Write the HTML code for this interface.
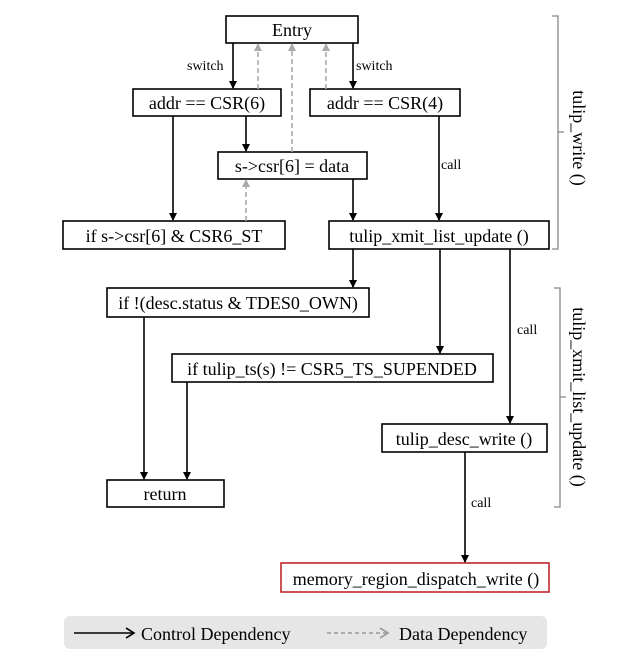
<!DOCTYPE html>
<html><head><meta charset="utf-8"><style>
body{margin:0;background:#fff;}
svg{display:block;font-family:"Liberation Serif",serif;}
</style></head><body>
<svg width="641" height="660" viewBox="0 0 641 660" xmlns="http://www.w3.org/2000/svg">
<defs>
<marker id="a" markerWidth="8" markerHeight="8" refX="7" refY="4" orient="auto" markerUnits="userSpaceOnUse"><path d="M0,0 L8,4 L0,8 z" fill="#000"/></marker>
<marker id="g" markerWidth="8" markerHeight="8" refX="7" refY="4" orient="auto" markerUnits="userSpaceOnUse"><path d="M0,0 L8,4 L0,8 z" fill="#aaa"/></marker>
</defs>
<g fill="none" stroke="#000" stroke-width="1.6">
<rect x="226" y="16" width="132" height="27"/>
<rect x="133" y="89" width="148" height="27"/>
<rect x="310" y="89" width="150" height="27"/>
<rect x="218" y="152" width="149" height="27"/>
<rect x="63" y="221" width="222" height="28"/>
<rect x="329" y="221" width="220" height="28"/>
<rect x="107" y="288" width="262" height="29"/>
<rect x="172" y="354" width="321" height="28"/>
<rect x="382" y="424" width="165" height="28"/>
<rect x="107" y="480" width="117" height="27"/>
<rect x="281" y="563" width="268" height="29" stroke="#c0282d"/>
</g>
<g stroke="#000" stroke-width="1.6" marker-end="url(#a)">
<line x1="233" y1="43" x2="233" y2="88"/>
<line x1="353" y1="43" x2="353" y2="88"/>
<line x1="246" y1="116" x2="246" y2="151"/>
<line x1="173" y1="116" x2="173" y2="220"/>
<line x1="353" y1="179" x2="353" y2="220"/>
<line x1="439" y1="116" x2="439" y2="220"/>
<line x1="353" y1="249" x2="353" y2="287"/>
<line x1="440" y1="249" x2="440" y2="353"/>
<line x1="510" y1="249" x2="510" y2="423"/>
<line x1="144" y1="317" x2="144" y2="479"/>
<line x1="187" y1="382" x2="187" y2="479"/>
<line x1="465" y1="452" x2="465" y2="562"/>
</g>
<g stroke="#aaa" stroke-width="1.6" stroke-dasharray="5,3" marker-end="url(#g)">
<line x1="258" y1="89" x2="258" y2="44"/>
<line x1="292" y1="152" x2="292" y2="44"/>
<line x1="326" y1="89" x2="326" y2="44"/>
<line x1="246" y1="221" x2="246" y2="180"/>
</g>
<g fill="none" stroke="#888" stroke-width="1.3">
<path d="M552,16 H558 V249 H552 M558,132 H564"/>
<path d="M554,288 H560 V507 H554 M560,397 H566"/>
</g>
<g font-size="18" text-anchor="middle" fill="#000">
<text x="292" y="36">Entry</text>
<text x="207" y="109">addr == CSR(6)</text>
<text x="385" y="109">addr == CSR(4)</text>
<text x="292" y="172">s-&gt;csr[6] = data</text>
<text x="174" y="242">if s-&gt;csr[6] &amp; CSR6_ST</text>
<text x="439" y="242">tulip_xmit_list_update ()</text>
<text x="238" y="309">if !(desc.status &amp; TDES0_OWN)</text>
<text x="332" y="375">if tulip_ts(s) != CSR5_TS_SUPENDED</text>
<text x="464" y="445">tulip_desc_write ()</text>
<text x="165" y="500">return</text>
<text x="416" y="585">memory_region_dispatch_write ()</text>
</g>
<g font-size="14" fill="#000">
<text x="187" y="70">switch</text>
<text x="356" y="70">switch</text>
<text x="441" y="169">call</text>
<text x="517" y="334">call</text>
<text x="471" y="507">call</text>
</g>
<g font-size="18" fill="#000" text-anchor="middle">
<text transform="translate(573,138) rotate(90)">tulip_write ()</text>
<text transform="translate(573,397) rotate(90)">tulip_xmit_list_update ()</text>
</g>
<rect x="64" y="616" width="483" height="33" rx="6" fill="#e6e6e6"/>
<line x1="74" y1="633" x2="133" y2="633" stroke="#000" stroke-width="1.6"/>
<path d="M126,628 L134,633 L126,638" fill="none" stroke="#000" stroke-width="1.6"/>
<line x1="327" y1="633" x2="386" y2="633" stroke="#999" stroke-width="1.6" stroke-dasharray="4,3"/>
<path d="M380,628 L388,633 L380,638" fill="none" stroke="#999" stroke-width="1.6"/>
<text x="141" y="640" font-size="18">Control Dependency</text>
<text x="399" y="640" font-size="18">Data Dependency</text>
</svg>
</body></html>
